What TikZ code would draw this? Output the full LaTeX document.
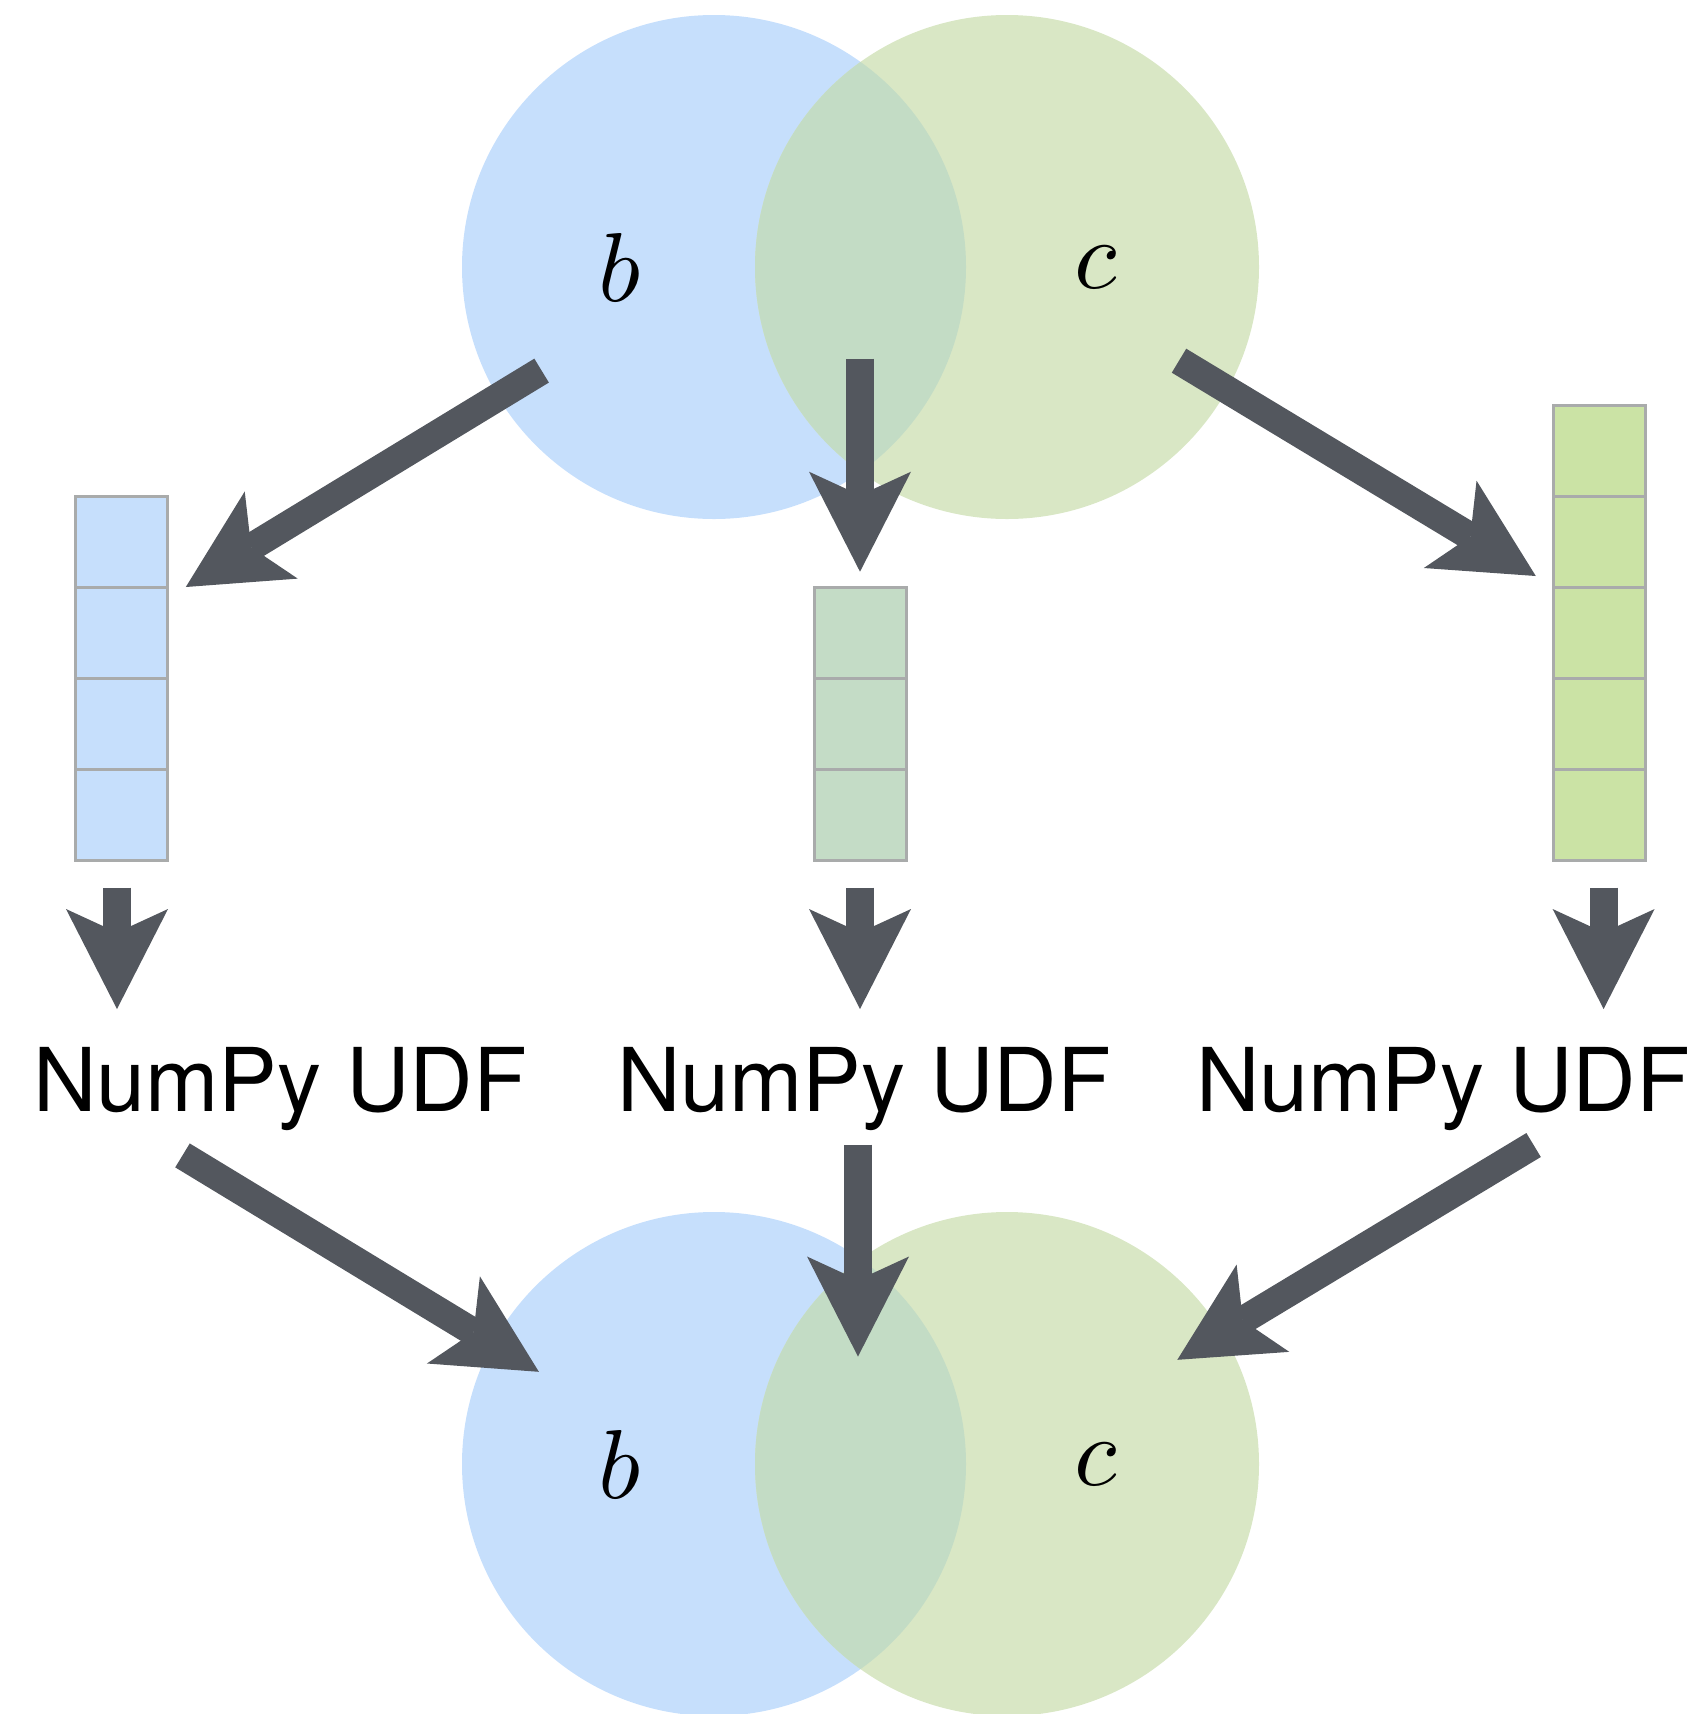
\documentclass[tikz,border=0pt]{standalone}
\usepackage{fontspec}
\setmainfont{TeX Gyre Heros}
\usetikzlibrary{arrows.meta}

% math italic for the set names, at display size
\font\setnamefont=cmmi10 at 49pt

\definecolor{setb}{RGB}{198,223,252}
\definecolor{setc}{RGB}{217,231,197}
\definecolor{setbc}{RGB}{195,220,197}
\definecolor{colb}{RGB}{198,223,252}
\definecolor{colbc}{RGB}{196,220,198}
\definecolor{colc}{RGB}{203,227,165}
\definecolor{cellline}{RGB}{169,171,171}
\definecolor{arrowgray}{RGB}{83,87,94}

\tikzset{
  fatarrow/.style={draw=arrowgray, line width=14pt,
    -{Stealth[length=50pt, width=51pt, inset=11.75pt, line width=0pt]}},
  setlabel/.style={inner sep=0pt, font=\setnamefont},
  udflabel/.style={inner sep=0pt, anchor=base, font=\fontsize{44}{50}\selectfont},
  cell/.style={draw=cellline, line width=1.5pt},
}

% draws a column of n square cells, top-left corner at (#1,#2)
\newcommand{\cellcolumn}[4]{%
  \foreach \k in {1,...,#3} {
    \filldraw[cell, fill=#4] (#1,{#2+91*(\k-1)}) rectangle ++(92,91);
  }%
}

\begin{document}
\begin{tikzpicture}[x=0.5pt, y=-0.5pt]
  \useasboundingbox (0,0) rectangle (1702,1714);

  % input sets b and c
  \fill[setb] (714,267) circle (126pt);
  \fill[setc] (1007,267) circle (126pt);
  \begin{scope}
    \clip (714,267) circle (126pt);
    \fill[setbc] (1007,267) circle (126pt);
  \end{scope}
  \node[setlabel] (b1) at (620,267) {b};
  \node[setlabel] (c1) at (1096,267) {c};

  % output sets b and c
  \fill[setb] (714,1464) circle (126pt);
  \fill[setc] (1007,1464) circle (126pt);
  \begin{scope}
    \clip (714,1464) circle (126pt);
    \fill[setbc] (1007,1464) circle (126pt);
  \end{scope}
  \node[setlabel] (b2) at (620,1464) {b};
  \node[setlabel] (c2) at (1096,1464) {c};

  % arrays: b only, b and c, c only
  \cellcolumn{75.5}{496}{4}{colb}
  \cellcolumn{814}{587}{3}{colbc}
  \cellcolumn{1553}{405}{5}{colc}

  % UDF labels
  \node[udflabel] (udf1) at (280,1111) {NumPy UDF};
  \node[udflabel] (udf2) at (864,1111) {NumPy UDF};
  \node[udflabel] (udf3) at (1443,1111) {NumPy UDF};

  % arrow end points
  \coordinate (s1) at (541.6,370.6);
  \coordinate (t1) at (185.8,587);
  \coordinate (s2) at (860,358.5);
  \coordinate (t2) at (860,571.7);
  \coordinate (s3) at (1179,360.7);
  \coordinate (t3) at (1535.8,576);

  \coordinate (d1s) at (117,887.6);
  \coordinate (d1t) at (117,1009);
  \coordinate (d2s) at (860,887.6);
  \coordinate (d2t) at (860,1009);
  \coordinate (d3s) at (1603.6,887.6);
  \coordinate (d3t) at (1603.6,1009);

  \coordinate (u1) at (182.5,1155.4);
  \coordinate (v1) at (538.9,1371.8);
  \coordinate (u2) at (858,1144.5);
  \coordinate (v2) at (858,1356.5);
  \coordinate (u3) at (1533.6,1145);
  \coordinate (v3) at (1177.3,1359.8);

  % split into arrays
  \draw[fatarrow] (s1) -- (t1);
  \draw[fatarrow] (s2) -- (t2);
  \draw[fatarrow] (s3) -- (t3);
  % apply the UDF
  \draw[fatarrow] (d1s) -- (d1t);
  \draw[fatarrow] (d2s) -- (d2t);
  \draw[fatarrow] (d3s) -- (d3t);
  % gather results
  \draw[fatarrow] (u1) -- (v1);
  \draw[fatarrow] (u2) -- (v2);
  \draw[fatarrow] (u3) -- (v3);
\end{tikzpicture}
\end{document}
